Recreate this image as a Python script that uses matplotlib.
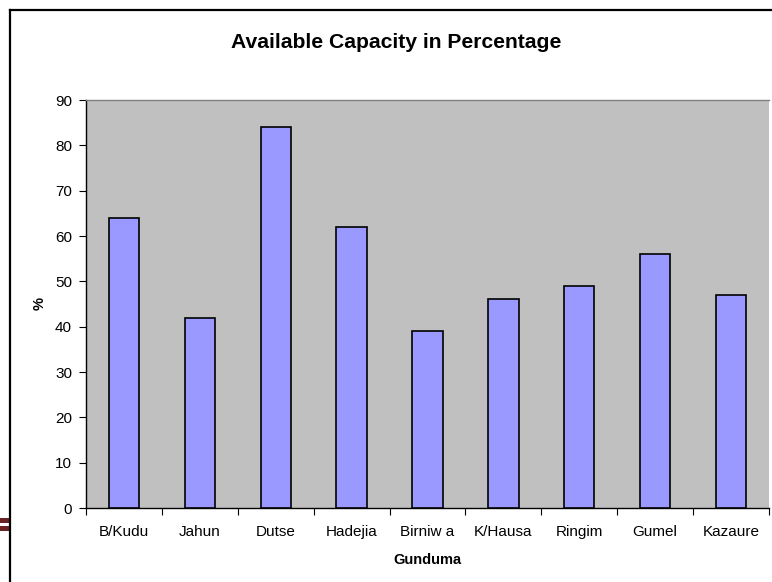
import matplotlib.pyplot as plt
import numpy as np
from matplotlib.lines import Line2D
from matplotlib.patches import Rectangle

plt.rcParams['font.family'] = ['Liberation Sans', 'DejaVu Sans']

categories = ["B/Kudu", "Jahun", "Dutse", "Hadejia", "Birniw a",
              "K/Hausa", "Ringim", "Gumel", "Kazaure"]
capacity = [64, 42, 84, 62, 39, 46, 49, 56, 47]

W, H = 772, 582
fig = plt.figure(figsize=(W / 100, H / 100), dpi=100)

# plot area in pixel terms
left, right, top, bottom = 86, 769, 100, 508
ax = fig.add_axes([left / W, 1 - bottom / H, (right - left) / W, (bottom - top) / H])
ax.set_facecolor('#c0c0c0')

x = np.arange(len(categories))
ax.bar(x, capacity, width=0.4, color='#9999ff', edgecolor='black', linewidth=1.2, zorder=3)

ax.set_xlim(-0.5, len(categories) - 0.5)
ax.set_ylim(0, 90)
ax.set_yticks(range(0, 91, 10))
ax.set_xticks(x)
ax.set_xticklabels(categories)
ax.set_xticks(np.arange(-0.5, len(categories)), minor=True)
ax.tick_params(axis='x', which='major', length=0, pad=12, labelsize=11)
ax.tick_params(axis='x', which='minor', length=5, width=0.8, direction='out')
ax.tick_params(axis='y', length=5, width=0.8, direction='out', pad=5, labelsize=11)

for side in ['left', 'bottom']:
    ax.spines[side].set_color('black')
    ax.spines[side].set_linewidth(1.0)
ax.spines['top'].set_color('#808080')
ax.spines['top'].set_linewidth(1.0)
ax.spines['right'].set_visible(False)

ax.set_xlabel('Gunduma', fontsize=10.5, fontweight='bold')
ax.xaxis.set_label_coords(0.5, (bottom - 553) / (bottom - top))
ax.set_ylabel('%', fontsize=10.5, fontweight='bold')
ax.yaxis.set_label_coords((47 - left) / (right - left), 0.5)
fig.text(396 / W, 1 - 43 / H, 'Available Capacity in Percentage',
         ha='center', va='center', fontsize=15.2, fontweight='bold')

# chart frame (left and top edges only)
fig.add_artist(Line2D([10 / W, 10 / W], [0, 1 - 10 / H], transform=fig.transFigure,
                      color='black', linewidth=1.6))
fig.add_artist(Line2D([10 / W, 1], [1 - 10 / H, 1 - 10 / H], transform=fig.transFigure,
                      color='black', linewidth=1.6))

# small brown rule at the left margin
fig.add_artist(Rectangle((0, 1 - 531 / H), 9 / W, 13 / H, transform=fig.transFigure,
                         color='#6b2424', linewidth=0))
fig.add_artist(Rectangle((0, 1 - 526 / H), 9 / W, 3 / H, transform=fig.transFigure,
                         color='white', linewidth=0))

fig.savefig('out.png', dpi=100)
